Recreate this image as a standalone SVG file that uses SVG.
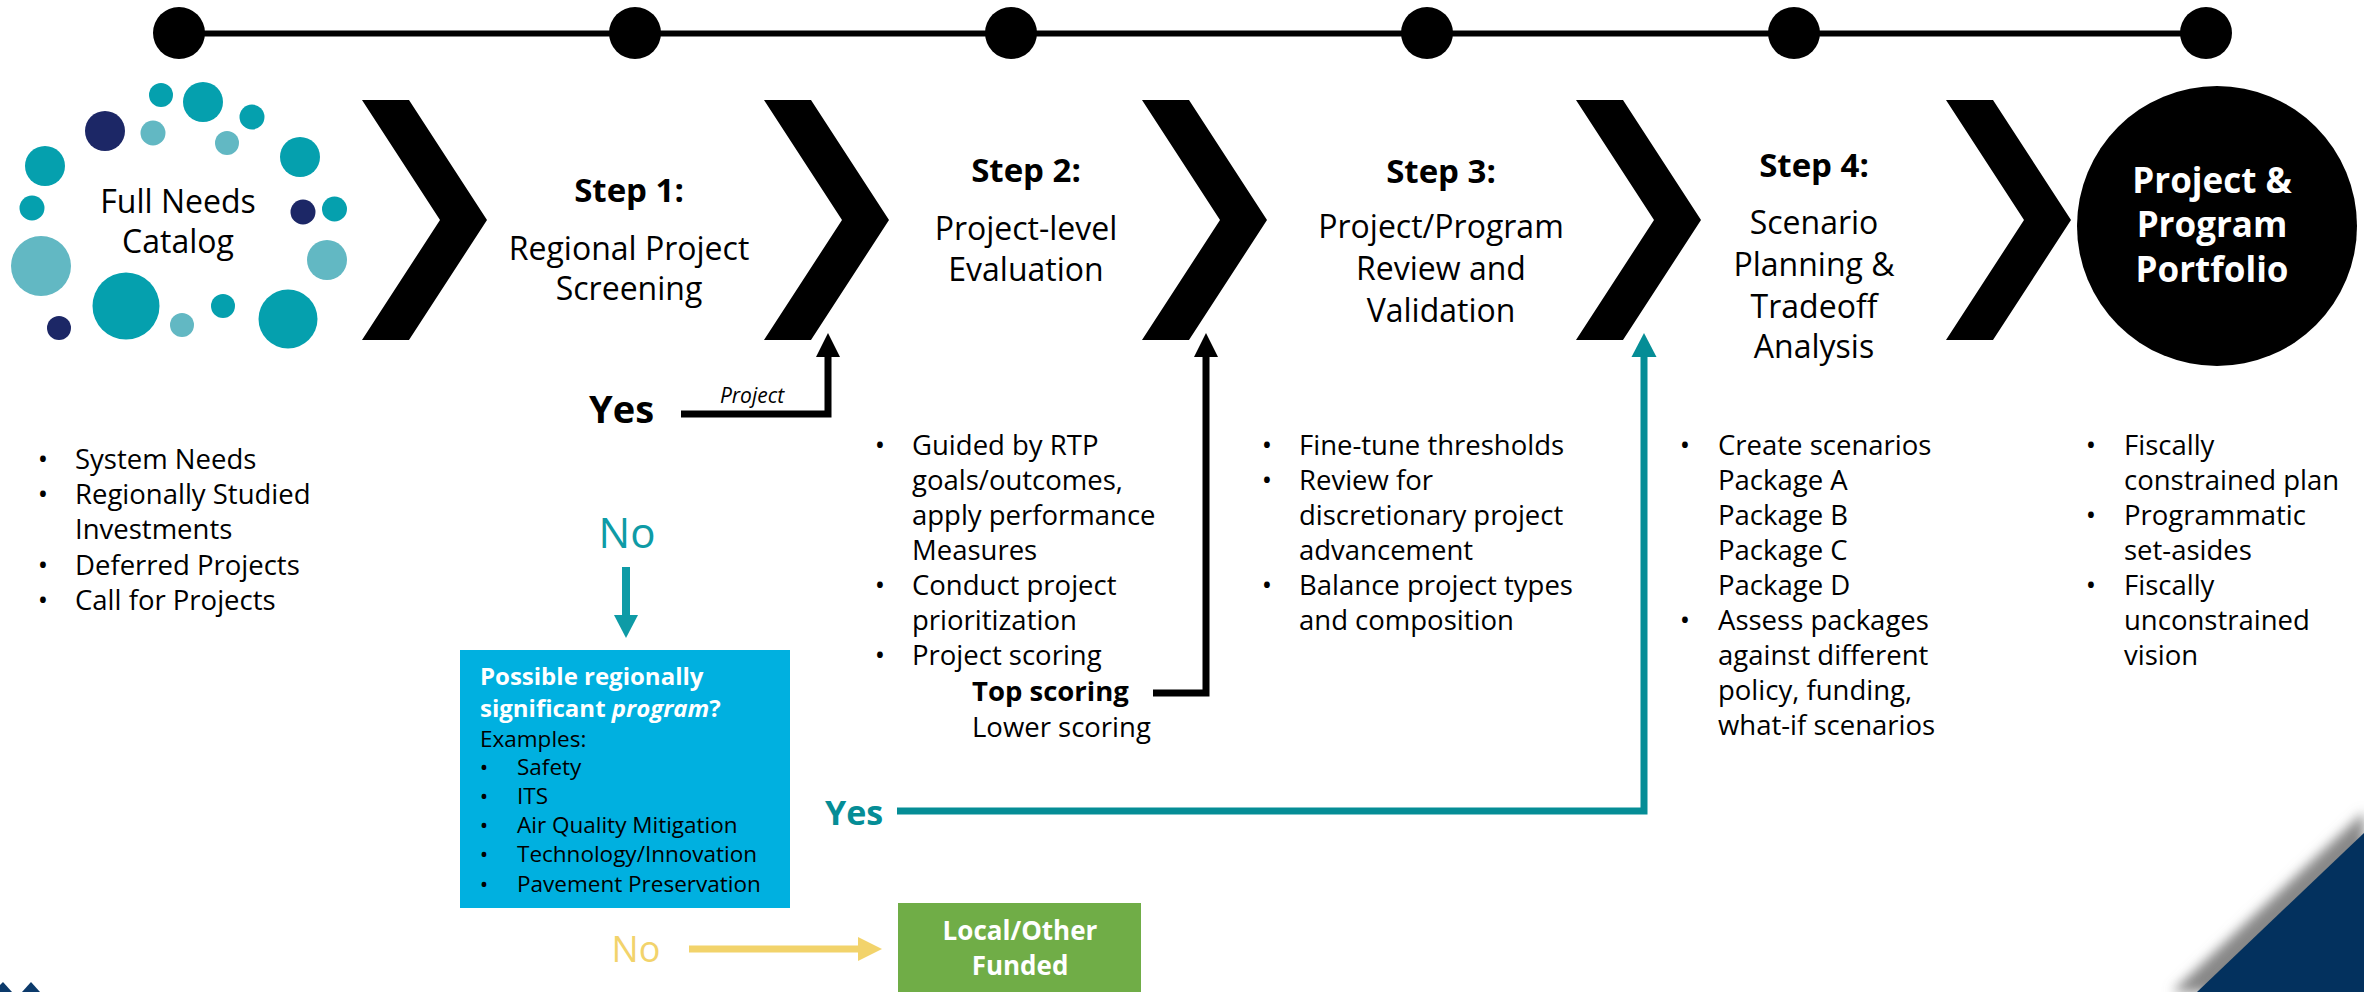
<svg xmlns="http://www.w3.org/2000/svg" width="2364" height="992" viewBox="0 0 2364 992">
<defs>
<style>
text{font-family:'Open Sans','Noto Sans','DejaVu Sans',sans-serif;fill:#000}
.step{font-size:33px;font-weight:700;text-anchor:middle}
.st{font-size:32px;text-anchor:middle}
.b{font-size:27.5px}
.bm{font-size:27.5px;text-anchor:middle}
.bx{font-size:22.5px}
.bxm{font-size:22.5px;text-anchor:middle}
.w{fill:#fff}
.teal{fill:#05A0AE}.light{fill:#62B8C3}.navy{fill:#1C2766}
</style>
<path id="chev" d="M0,100 L47,100 L125,220 L47,340 L0,340 L78,220 Z" fill="#000"/>
<filter id="blur" x="-20%" y="-20%" width="140%" height="140%"><feGaussianBlur stdDeviation="6"/></filter>
</defs>
<rect width="2364" height="992" fill="#fff"/>

<g id="timeline">
<line x1="179" y1="33.5" x2="2206" y2="33.5" stroke="#000" stroke-width="6"/>
<circle cx="179" cy="33" r="26"/>
<circle cx="635" cy="33" r="26"/>
<circle cx="1011" cy="33" r="26"/>
<circle cx="1427" cy="33" r="26"/>
<circle cx="1794" cy="33" r="26"/>
<circle cx="2206" cy="33" r="26"/>
</g>

<g id="chevrons">
<use href="#chev" x="362"/>
<use href="#chev" x="764"/>
<use href="#chev" x="1142"/>
<use href="#chev" x="1576"/>
<use href="#chev" x="1946"/>
</g>

<g id="needs-catalog">
<circle class="teal" cx="161" cy="95" r="12"/>
<circle class="teal" cx="203" cy="102" r="20"/>
<circle class="navy" cx="105" cy="131" r="20"/>
<circle class="light" cx="153" cy="133" r="12.5"/>
<circle class="teal" cx="252" cy="117" r="12.5"/>
<circle class="light" cx="227" cy="143" r="12"/>
<circle class="teal" cx="300" cy="157" r="20"/>
<circle class="teal" cx="45" cy="166" r="20"/>
<circle class="teal" cx="32" cy="208" r="12.5"/>
<circle class="navy" cx="303" cy="212" r="12.5"/>
<circle class="teal" cx="334.5" cy="209" r="12.5"/>
<circle class="light" cx="41" cy="266" r="30"/>
<circle class="light" cx="327" cy="260" r="20"/>
<circle class="teal" cx="126" cy="306" r="33.5"/>
<circle class="navy" cx="59" cy="328" r="12"/>
<circle class="light" cx="182" cy="325" r="12"/>
<circle class="teal" cx="223" cy="306" r="12"/>
<circle class="teal" cx="288" cy="319" r="29.5"/>
<text x="178" y="213" font-size="32" text-anchor="middle">Full Needs</text>
<text x="178" y="253" font-size="32" text-anchor="middle">Catalog</text>
<text class="bm" x="43" y="469">•</text><text class="b" x="75" y="469">System Needs</text>
<text class="bm" x="43" y="504">•</text><text class="b" x="75" y="504">Regionally Studied</text>
<text class="b" x="75" y="539">Investments</text>
<text class="bm" x="43" y="575">•</text><text class="b" x="75" y="575">Deferred Projects</text>
<text class="bm" x="43" y="610">•</text><text class="b" x="75" y="610">Call for Projects</text>
</g>

<g id="step1">
<text class="step" x="629" y="202">Step 1:</text>
<text class="st" x="629" y="260">Regional Project</text>
<text class="st" x="629" y="300">Screening</text>
<text x="589" y="423" font-size="38" font-weight="700">Yes</text>
<text x="627" y="548" font-size="42" text-anchor="middle" style="fill:#0E9BA6">No</text>
</g>

<g id="step2">
<text class="step" x="1026" y="182">Step 2:</text>
<text class="st" x="1026" y="240">Project-level</text>
<text class="st" x="1026" y="281">Evaluation</text>
<text class="bm" x="880" y="455">•</text><text class="b" x="912" y="455">Guided by RTP</text>
<text class="b" x="912" y="490">goals/outcomes,</text>
<text class="b" x="912" y="525">apply performance</text>
<text class="b" x="912" y="560">Measures</text>
<text class="bm" x="880" y="595">•</text><text class="b" x="912" y="595">Conduct project</text>
<text class="b" x="912" y="630">prioritization</text>
<text class="bm" x="880" y="665">•</text><text class="b" x="912" y="665">Project scoring</text>
<text class="b" x="972" y="701" font-weight="700">Top scoring</text>
<text class="b" x="972" y="737">Lower scoring</text>
</g>

<g id="step3">
<text class="step" x="1441" y="183">Step 3:</text>
<text class="st" x="1441" y="238">Project/Program</text>
<text class="st" x="1441" y="280">Review and</text>
<text class="st" x="1441" y="322">Validation</text>
<text class="bm" x="1267" y="455">•</text><text class="b" x="1299" y="455">Fine-tune thresholds</text>
<text class="bm" x="1267" y="490">•</text><text class="b" x="1299" y="490">Review for</text>
<text class="b" x="1299" y="525">discretionary project</text>
<text class="b" x="1299" y="560">advancement</text>
<text class="bm" x="1267" y="595">•</text><text class="b" x="1299" y="595">Balance project types</text>
<text class="b" x="1299" y="630">and composition</text>
</g>

<g id="step4">
<text class="step" x="1814" y="177">Step 4:</text>
<text class="st" x="1814" y="234">Scenario</text>
<text class="st" x="1814" y="276">Planning &amp;</text>
<text class="st" x="1814" y="318">Tradeoff</text>
<text class="st" x="1814" y="358">Analysis</text>
<text class="bm" x="1685" y="455">•</text><text class="b" x="1718" y="455">Create scenarios</text>
<text class="b" x="1718" y="490">Package A</text>
<text class="b" x="1718" y="525">Package B</text>
<text class="b" x="1718" y="560">Package C</text>
<text class="b" x="1718" y="595">Package D</text>
<text class="bm" x="1685" y="630">•</text><text class="b" x="1718" y="630">Assess packages</text>
<text class="b" x="1718" y="665">against different</text>
<text class="b" x="1718" y="700">policy, funding,</text>
<text class="b" x="1718" y="735">what-if scenarios</text>
</g>

<g id="portfolio">
<circle cx="2217" cy="226" r="140" fill="#000"/>
<text class="w" x="2212" y="193" font-size="35" font-weight="700" text-anchor="middle">Project &amp;</text>
<text class="w" x="2212" y="237" font-size="35" font-weight="700" text-anchor="middle">Program</text>
<text class="w" x="2212" y="282" font-size="35" font-weight="700" text-anchor="middle">Portfolio</text>
<text class="bm" x="2091" y="455">•</text><text class="b" x="2124" y="455">Fiscally</text>
<text class="b" x="2124" y="490">constrained plan</text>
<text class="bm" x="2091" y="525">•</text><text class="b" x="2124" y="525">Programmatic</text>
<text class="b" x="2124" y="560">set-asides</text>
<text class="bm" x="2091" y="595">•</text><text class="b" x="2124" y="595">Fiscally</text>
<text class="b" x="2124" y="630">unconstrained</text>
<text class="b" x="2124" y="665">vision</text>
</g>

<g id="program-box">
<rect x="460" y="650" width="330" height="258" fill="#00B0E0"/>
<text class="w" x="480" y="685" font-size="24" font-weight="700">Possible regionally</text>
<text class="w" x="480" y="717" font-size="24" font-weight="700">significant <tspan font-style="italic" class="w">program</tspan>?</text>
<text class="bx" x="480" y="747">Examples:</text>
<text class="bxm" x="484" y="775">•</text><text class="bx" x="517" y="775">Safety</text>
<text class="bxm" x="484" y="804">•</text><text class="bx" x="517" y="804">ITS</text>
<text class="bxm" x="484" y="833">•</text><text class="bx" x="517" y="833">Air Quality Mitigation</text>
<text class="bxm" x="484" y="862">•</text><text class="bx" x="517" y="862">Technology/Innovation</text>
<text class="bxm" x="484" y="892">•</text><text class="bx" x="517" y="892">Pavement Preservation</text>
<text x="825" y="825" font-size="34" font-weight="700" style="fill:#058D96">Yes</text>
<text x="636" y="962" font-size="36" text-anchor="middle" style="fill:#F2D36B">No</text>
</g>

<g id="local-funded">
<rect x="898" y="903" width="243" height="89" fill="#70AD47"/>
<text class="w" x="1020" y="940" font-size="26" font-weight="700" text-anchor="middle">Local/Other</text>
<text class="w" x="1020" y="975" font-size="26" font-weight="700" text-anchor="middle">Funded</text>
</g>

<g id="connectors" fill="none">
<polyline points="681,414 828,414 828,355" stroke="#000" stroke-width="7"/>
<polygon points="828,333 816,357 840,357" fill="#000"/>
<text x="752" y="403" font-size="21" font-style="italic" text-anchor="middle">Project</text>
<polyline points="1153,693 1206,693 1206,355" stroke="#000" stroke-width="7"/>
<polygon points="1206,333 1194,357 1218,357" fill="#000"/>
<polyline points="897,811 1644,811 1644,355" stroke="#058D96" stroke-width="7"/>
<polygon points="1644,333 1631.5,357 1656.5,357" fill="#058D96"/>
<line x1="626" y1="567" x2="626" y2="617" stroke="#0E9BA6" stroke-width="8"/>
<polygon points="626,638 614,615 638,615" fill="#0E9BA6"/>
<line x1="689" y1="949" x2="860" y2="949" stroke="#F2D36B" stroke-width="7"/>
<polygon points="882,949 858,937 858,961" fill="#F2D36B"/>
</g>

<g id="corner-decor">
<polygon points="2364,812 2364,992 2172,992" fill="#888" filter="url(#blur)"/>
<polygon points="2364,833 2364,992 2197,992" fill="#03315E"/>
<polygon points="0,992 0,985 3,982 12,992" fill="#0C3A6B"/>
<polygon points="22,992 31,982 40,992" fill="#0C3A6B"/>
</g>
</svg>
